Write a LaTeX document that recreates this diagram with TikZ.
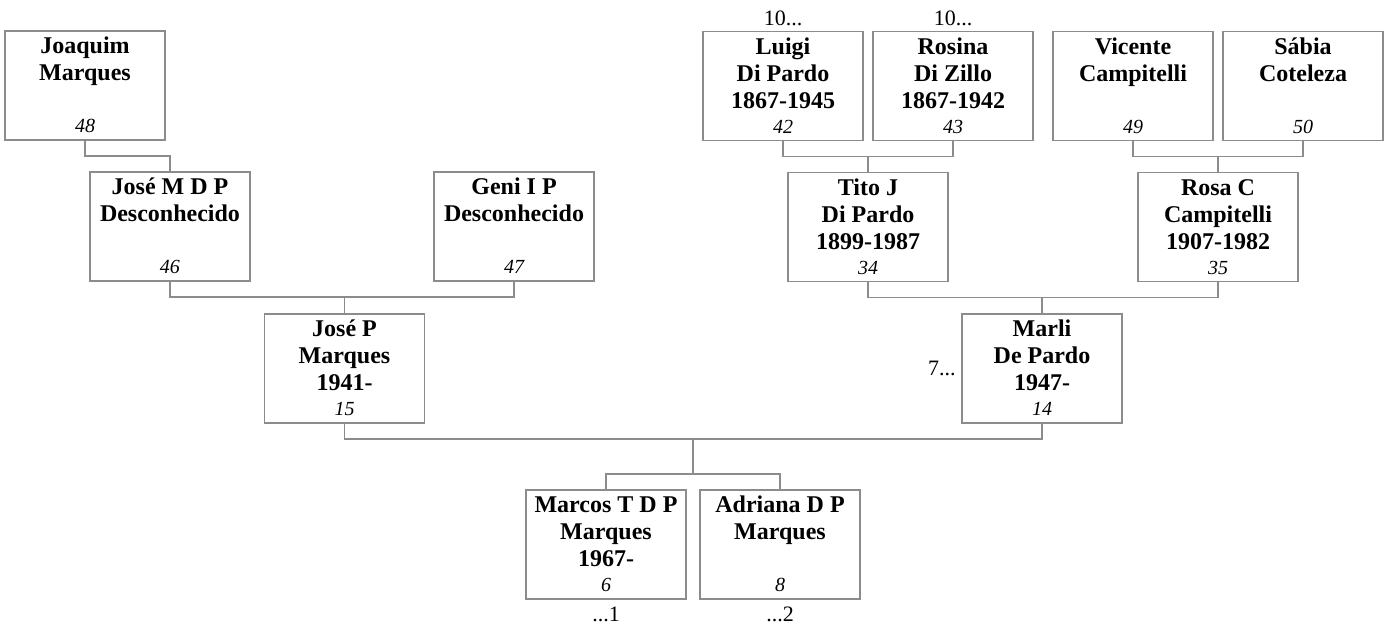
\documentclass[tikz,border=0pt]{standalone}
\usepackage{fontspec}
\setmainfont{Liberation Serif}
\usetikzlibrary{calc,positioning}
\definecolor{linegray}{RGB}{140,140,140}
\tikzset{
  person/.style={
    draw=linegray,
    line width=0.6pt,
    inner sep=0pt,
    outer sep=0pt
  },
  link/.style={draw=linegray, line width=0.6pt},
  note/.style={inner sep=0pt, font=\fontsize{11}{13}\selectfont}
}
\newcommand{\personbox}[2]{%
  \parbox[c][54.5pt][t]{80pt}{\centering\vspace*{2pt}%
    \fontsize{12}{13.5}\selectfont\bfseries\strut#1\par\vfill
    {\fontsize{10}{12}\selectfont\mdseries\itshape\strut#2\par}}}

\begin{document}
\begin{tikzpicture}[x=0.5pt,y=-0.5pt]
  \useasboundingbox (0,0) rectangle (1386,625);
  % boxes, numbered as in the tree
  \foreach \id/\x/\y/\name in {
    48/85/85.5/{Joaquim\\Marques},
    46/170/226.5/{José M D P\\Desconhecido},
    47/514/226.5/{Geni I P\\Desconhecido},
    15/344.5/368.5/{José P\\Marques\\1941-},
    42/783/86/{Luigi\\Di Pardo\\1867-1945},
    43/953/86/{Rosina\\Di Zillo\\1867-1942},
    49/1133/86/{Vicente\\Campitelli},
    50/1303/86/{Sábia\\Coteleza},
    34/868/227/{Tito J\\Di Pardo\\1899-1987},
    35/1218/227/{Rosa C\\Campitelli\\1907-1982},
    14/1042/368.5/{Marli\\De Pardo\\1947-},
    6/606/544.5/{Marcos T D P\\Marques\\1967-},
    8/780/544.5/{Adriana D P\\Marques}
  }
    \node[person] (p\id) at (\x,\y) {\personbox{\name}{\id}};

  % cross references
  \node[note, above=2.5pt of p42] (n42) {10...};
  \node[note, above=2.5pt of p43] (n43) {10...};
  \node[note, left=3pt of p14] (n14) {7...};
  \node[note, below=4pt of p6] (n6) {...1};
  \node[note, below=4pt of p8] (n8) {...2};

  % parents to child
  \draw[link] (p48.south) -- ++(0,-8pt) -| (p46.north);
  \draw[link] (p46.south) -- ++(0,-8pt) -| (p47.south);
  \draw[link] (p15.north) -- ++(0,8pt);
  \draw[link] (p42.south) -- ++(0,-8pt) -| (p43.south);
  \draw[link] (p34.north) -- ++(0,8pt);
  \draw[link] (p49.south) -- ++(0,-8pt) -| (p50.south);
  \draw[link] (p35.north) -- ++(0,8pt);
  \draw[link] (p34.south) -- ++(0,-8pt) -| (p35.south);
  \draw[link] (p14.north) -- ++(0,8pt);

  % couple to children
  \draw[link] (p15.south) -- ++(0,-8pt) -| (p14.south);
  \draw[link] (p6.north) -- ++(0,8pt) -| (p8.north);
  \coordinate (kids) at ($(p6.north)!0.5!(p8.north)+(0,8pt)$);
  \coordinate (couple) at ($(p15.south)!0.5!(p14.south)+(0,-8pt)$);
  \draw[link] (kids) -- (kids |- couple);
\end{tikzpicture}
\end{document}
